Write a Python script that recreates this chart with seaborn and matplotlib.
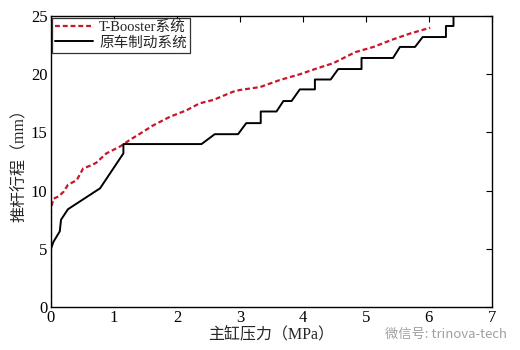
import matplotlib
matplotlib.use("Agg")
import matplotlib.pyplot as plt
import seaborn as sns
import pandas as pd

# T-Booster系统 (red dashed)
tb_x = [0.0, 0.0, 0.0, 0.04, 0.12, 0.2, 0.27, 0.41, 0.51, 0.65, 0.72, 0.88, 1.1, 1.25,
        1.46, 1.62, 1.89, 2.15, 2.36, 2.58, 2.89, 3.0, 3.32, 3.63, 3.95, 4.22, 4.48,
        4.83, 5.12, 5.43, 5.7, 6.02]
tb_y = [0.0, 5.0, 8.5, 9.3, 9.5, 9.9, 10.5, 10.9, 11.9, 12.2, 12.4, 13.2, 13.8, 14.35,
        15.05, 15.6, 16.35, 16.9, 17.5, 17.8, 18.5, 18.65, 18.9, 19.5, 20.0, 20.5, 20.95,
        21.9, 22.35, 23.0, 23.5, 24.0]

# 原车制动系统 (black solid)
oe_x = [0.0, 0.0, 0.04, 0.14, 0.16, 0.27, 0.78, 1.15, 1.15, 2.39, 2.6, 2.97, 3.1, 3.33,
        3.33, 3.58, 3.69, 3.82, 3.95, 4.19, 4.19, 4.44, 4.56, 4.93, 4.93, 5.43, 5.54,
        5.78, 5.9, 6.27, 6.27, 6.39, 6.39]
oe_y = [0.0, 5.0, 5.6, 6.5, 7.5, 8.4, 10.2, 13.2, 14.0, 14.0, 14.85, 14.85, 15.8, 15.8,
        16.8, 16.8, 17.7, 17.7, 18.7, 18.7, 19.55, 19.55, 20.45, 20.45, 21.4, 21.4, 22.35,
        22.35, 23.2, 23.2, 24.15, 24.15, 25.2]

labels = ["T-Booster系统", "原车制动系统"]
x_ticks = [0, 1, 2, 3, 4, 5, 6, 7]
y_ticks = [0, 5, 10, 15, 20, 25]

sns.set_theme(style="white")
plt.rcParams['font.family'] = ['Liberation Serif', 'Noto Sans CJK SC', 'DejaVu Sans']

fig = plt.figure(figsize=(5.2, 3.5), dpi=100)
ax = fig.add_axes([0.098, 0.123, 0.848, 0.831])

df_tb = pd.DataFrame({"x": tb_x, "y": tb_y})
df_oe = pd.DataFrame({"x": oe_x, "y": oe_y})

sns.lineplot(data=df_tb, x="x", y="y", sort=False, estimator=None, ax=ax,
             color="#c8162a", linewidth=1.6, dashes=False, linestyle=(0, (2.2, 1.3)),
             label=labels[0])
sns.lineplot(data=df_oe, x="x", y="y", sort=False, estimator=None, ax=ax,
             color="black", linewidth=1.4, label=labels[1])

ax.set_xlim(0, 7)
ax.set_ylim(0, 25)
ax.set_xticks(x_ticks)
ax.set_yticks(y_ticks)
ax.tick_params(axis="both", direction="in", top=True, right=True, length=4, width=0.8,
               labelsize=12, colors="black")
ax.tick_params(axis="x", pad=2.5)
ax.tick_params(axis="y", pad=2.5)
for s in ax.spines.values():
    s.set_color("black")
    s.set_linewidth(1.0)

ax.set_xlabel("主缸压力（MPa）", fontsize=11.5, labelpad=0)
ax.set_ylabel("推杆行程（mm）", fontsize=11.5, labelpad=2)

leg = ax.legend(loc="upper left", fontsize=10.5, frameon=True, fancybox=False,
                borderpad=0.2, handlelength=2.6, handletextpad=0.4,
                labelspacing=0.15, borderaxespad=0.1)
leg.get_frame().set_edgecolor("black")
leg.get_frame().set_linewidth(0.9)

fig.text(0.857, 0.045, "微信号: trinova-tech", fontsize=9.5, color="#a0a0a0",
         ha="center", va="center", family=['Noto Sans CJK SC', 'DejaVu Sans'])

fig.savefig("out.png", dpi=100)
